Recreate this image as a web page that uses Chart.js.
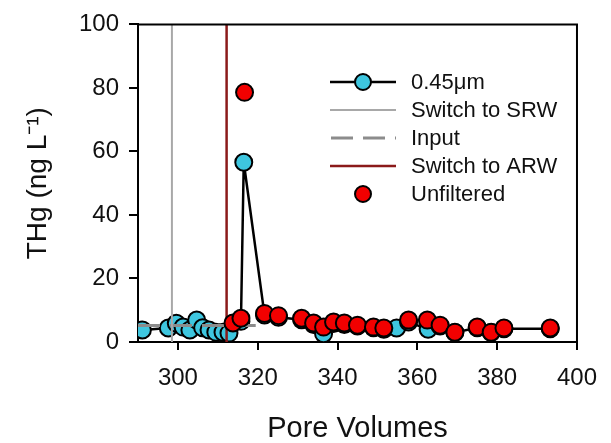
<!DOCTYPE html>
<html>
<head>
<meta charset="utf-8">
<script src="https://cdn.jsdelivr.net/npm/chart.js@4"></script>
<style>
  html, body { margin: 0; padding: 0; background: #fff; }
  #wrap { width: 611px; height: 443px; }
</style>
</head>
<body>
<div id="wrap"><canvas id="myChart" width="611" height="443"></canvas></div>
<script>
// pore volumes / THg
var filtX = [291.1, 297.6, 299.6, 301.3, 303.0, 304.7, 306.2, 307.8, 309.5, 311.3, 312.8, 315.8, 316.5, 321.7, 325.2, 331.0, 334.0, 336.5, 339.0, 341.7, 345.0, 349.0, 351.6, 354.8, 357.8, 362.7, 365.7, 369.4, 375.0, 378.5, 381.7, 393.3];
var filtY = [3.8, 4.4, 5.9, 4.7, 3.8, 6.9, 4.5, 3.8, 3.1, 3.1, 2.8, 6.5, 56.6, 8.5, 7.8, 7.0, 5.5, 2.6, 5.8, 5.5, 5.0, 4.5, 4.0, 4.4, 6.3, 4.0, 5.0, 3.0, 4.5, 3.0, 4.2, 4.2];

var unfiltX = [313.8, 315.8, 316.7, 321.7, 325.2, 331.0, 334.0, 336.5, 339.0, 341.7, 345.0, 349.0, 351.6, 357.8, 362.5, 365.7, 369.4, 375.0, 378.5, 381.7, 393.3];
var unfiltY = [6.0, 7.5, 78.6, 9.0, 8.3, 7.5, 6.0, 4.7, 6.3, 6.0, 5.3, 4.7, 4.4, 6.9, 6.9, 5.3, 3.1, 4.7, 3.1, 4.4, 4.4];

var inputX = [290, 319.5];
var inputY = [5.2, 5.2];

var srwX = 298.5;
var arwX = 312.2;

var xTicks = [300, 320, 340, 360, 380, 400];
var yTicks = [0, 20, 40, 60, 80, 100];

var legendNames = ["0.45\u03bcm", "Switch to SRW", "Input", "Switch to ARW", "Unfiltered"];

var FONT = "'Liberation Sans', Arial, sans-serif";

function pts(xs, ys){
    return xs.map(function(v,i){ return {x: v, y: ys[i]}; });
}

// legend box in the upper right, drawn by hand so the line samples look like the original
var boxLegend = {
    id: 'boxLegend',
    afterDraw: function(chart){
        var ctx = chart.ctx;
        var area = chart.chartArea;
        ctx.save();
        // top and right frame
        ctx.strokeStyle = '#000';
        ctx.lineWidth = 2;
        ctx.beginPath();
        ctx.moveTo(area.left, area.top);
        ctx.lineTo(area.right, area.top);
        ctx.lineTo(area.right, area.bottom);
        ctx.stroke();

        chart.data.datasets.forEach(function(ds, i){
            var y = 82 + i * 28;
            if (ds.showLine !== false) {
                ctx.strokeStyle = ds.borderColor;
                ctx.lineWidth = ds.borderWidth;
                ctx.setLineDash(ds.borderDash || []);
                ctx.beginPath();
                ctx.moveTo(ds.legendDash ? 331 : 330, y);
                ctx.lineTo(396, y);
                ctx.stroke();
                ctx.setLineDash([]);
            }
            if (ds.pointRadius > 0) {
                ctx.fillStyle = ds.pointBackgroundColor;
                ctx.strokeStyle = '#000';
                ctx.lineWidth = 2;
                ctx.beginPath();
                ctx.arc(363, y, 8, 0, Math.PI * 2);
                ctx.fill();
                ctx.stroke();
            }
            ctx.fillStyle = '#111';
            ctx.font = '22px ' + FONT;
            ctx.textBaseline = 'middle';
            ctx.textAlign = 'left';
            ctx.fillText(legendNames[i], 411, y + 1);
        });
        ctx.restore();
    }
};

var ctx = document.getElementById("myChart").getContext("2d");
var myChart = new Chart(ctx, {
    type: 'scatter',
    data: {
        datasets: [
            {
                data: pts(filtX, filtY),
                showLine: true,
                borderColor: '#000',
                borderWidth: 2.5,
                pointRadius: 8.5,
                pointBackgroundColor: '#3ec6df',
                pointBorderColor: '#000',
                pointBorderWidth: 2,
                order: 4
            },
            {
                data: [{x: srwX, y: 0}, {x: srwX, y: 100}],
                showLine: true,
                borderColor: '#a8a8a8',
                borderWidth: 2,
                pointRadius: 0,
                order: 2
            },
            {
                data: pts(inputX, inputY),
                showLine: true,
                borderColor: '#8c8c8c',
                borderWidth: 3,
                borderDash: [22, 10],
                legendDash: true,
                pointRadius: 0,
                order: 3
            },
            {
                data: [{x: arwX, y: 0}, {x: arwX, y: 100}],
                showLine: true,
                borderColor: '#8b1a1a',
                borderWidth: 2.5,
                pointRadius: 0,
                order: 1
            },
            {
                data: pts(unfiltX, unfiltY),
                showLine: false,
                pointRadius: 8.5,
                pointBackgroundColor: '#f20000',
                pointBorderColor: '#000',
                pointBorderWidth: 2,
                order: 0
            }
        ]
    },
    options: {
        responsive: false,
        animation: false,
        devicePixelRatio: 1,
        layout: {padding: {top: 22, right: 26, left: 0, bottom: 0}},
        plugins: {
            legend: {display: false},
            tooltip: {enabled: false}
        },
        scales: {
            x: {
                type: 'linear',
                min: 290,
                max: 400,
                afterBuildTicks: function(axis){
                    axis.ticks = xTicks.map(function(v){ return {value: v}; });
                },
                afterFit: function(axis){ axis.height = 101; },
                border: {display: true, color: '#000', width: 2},
                grid: {drawOnChartArea: false, drawTicks: true, tickLength: 8, color: '#000', lineWidth: 2},
                ticks: {color: '#111', font: {family: FONT, size: 24}, padding: 14, maxRotation: 0},
                title: {
                    display: true,
                    text: 'Pore Volumes',
                    color: '#111',
                    font: {family: FONT, size: 29, lineHeight: 1},
                    padding: {top: 0, bottom: 0}
                }
            },
            y: {
                type: 'linear',
                min: 0,
                max: 100,
                afterBuildTicks: function(axis){
                    axis.ticks = yTicks.map(function(v){ return {value: v}; });
                },
                afterFit: function(axis){ axis.width = 138; },
                border: {display: true, color: '#000', width: 2},
                grid: {drawOnChartArea: false, drawTicks: true, tickLength: 9, color: '#000', lineWidth: 2},
                ticks: {color: '#111', font: {family: FONT, size: 24}, padding: 10},
                title: {
                    display: true,
                    text: 'THg (ng L\u207b\u00b9)',
                    color: '#111',
                    font: {family: FONT, size: 28, lineHeight: 1.2},
                    padding: {top: 21, bottom: 0}
                }
            }
        }
    },
    plugins: [boxLegend]
});
</script>
</body>
</html>
